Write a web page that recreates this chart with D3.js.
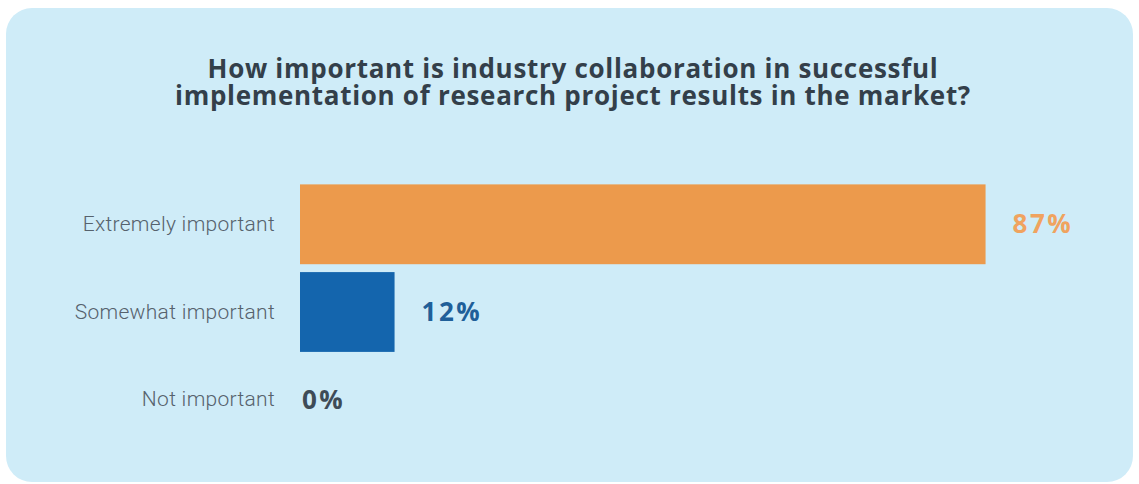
<!DOCTYPE html>
<html>
<head>
<meta charset="utf-8">
<script src="https://cdn.jsdelivr.net/npm/d3@7"></script>
<style>
  body { margin: 0; background: #fff; }
</style>
</head>
<body>
<div id="chart-area"></div>
<script>
// data
var categories = ["Extremely important", "Somewhat important", "Not important"]
var values = [87, 12, 0]
var valueLabels = ["87%", "12%", "0%"]
var barColors = ["#ec9a4c", "#1465ad", "#1465ad"]
var labelColors = ["#f0a35f", "#1f5f99", "#3e4b57"]
var titleLines = ["How important is industry collaboration in successful",
                  "implementation of research project results in the market?"]

var width = 1139
var height = 484

var svg = d3.select("#chart-area")
          .append("svg")
          .attr("width", width)
          .attr("height", height)

// card background
svg.append("rect")
  .attr("x", 6).attr("y", 8)
  .attr("width", 1127).attr("height", 474)
  .attr("rx", 26).attr("ry", 26)
  .attr("fill", "#cfecf8")

// title, one text with a tspan per line
var title = svg.append("text")
  .attr("x", 573)
  .attr("y", 78)
  .attr("text-anchor", "middle")
  .attr("font-family", "'Open Sans', sans-serif")
  .attr("font-weight", "bold")
  .attr("font-size", "26px")
  .attr("letter-spacing", "0.7px")
  .attr("fill", "#333f4a")
title.selectAll("tspan")
  .data(titleLines)
  .enter().append("tspan")
    .attr("x", 573)
    .attr("dy", (d, i) => i === 0 ? 0 : 27)
    .text(d => d)

var x = d3.scaleLinear().domain([0, 100]).range([300, 1088])
var y = d3.scaleBand().domain(categories).range([180, 444]).paddingInner(0.09).paddingOuter(0.05)

var g = svg.append("g")

// bars
g.selectAll("rect.bar")
  .data(values)
  .enter().append("rect")
    .attr("class", "bar")
    .attr("x", x(0))
    .attr("y", (d, i) => y(categories[i]))
    .attr("width", d => x(d) - x(0))
    .attr("height", y.bandwidth())
    .attr("fill", (d, i) => barColors[i])

// category labels
var leftAxis = d3.axisLeft(y).tickSize(0).tickPadding(25)
var axisG = g.append("g")
  .attr("transform", `translate(${x(0)}, 0)`)
  .call(leftAxis)
axisG.select(".domain").remove()
axisG.selectAll("text")
  .attr("font-family", "Roboto, sans-serif")
  .attr("font-weight", 300)
  .attr("font-size", "21px")
  .attr("letter-spacing", "0.3px")
  .attr("fill", "#56626d")

// value labels
g.selectAll("text.value")
  .data(values)
  .enter().append("text")
    .attr("class", "value")
    .attr("x", d => x(d) + (d > 0 ? 27 : 2))
    .attr("y", (d, i) => y(categories[i]) + y.bandwidth() / 2)
    .attr("dy", "0.35em")
    .attr("font-family", "'Open Sans', sans-serif")
    .attr("font-weight", "bold")
    .attr("font-size", "26px")
    .attr("letter-spacing", "2.5px")
    .attr("fill", (d, i) => labelColors[i])
    .text((d, i) => valueLabels[i])
</script>
</body>
</html>
